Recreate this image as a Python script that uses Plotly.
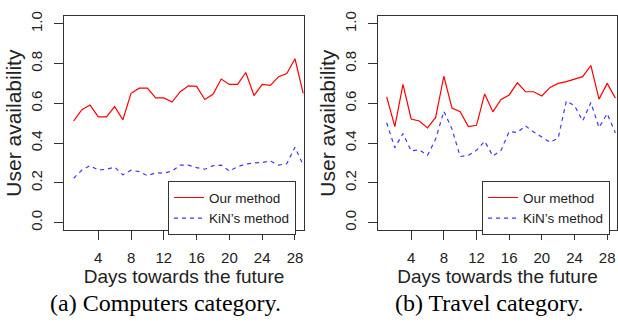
import plotly.graph_objects as go

# ---- data ----
days = list(range(1, 30))
computers_ours = [0.511, 0.568, 0.591, 0.532, 0.532, 0.583, 0.517, 0.650, 0.676, 0.676,
                  0.627, 0.627, 0.606, 0.658, 0.688, 0.685, 0.619, 0.645, 0.722, 0.695,
                  0.695, 0.755, 0.639, 0.695, 0.690, 0.734, 0.750, 0.824, 0.650]
computers_kin = [0.223, 0.264, 0.286, 0.264, 0.268, 0.279, 0.240, 0.263, 0.256, 0.236,
                 0.250, 0.248, 0.259, 0.289, 0.289, 0.276, 0.268, 0.286, 0.289, 0.259,
                 0.281, 0.294, 0.300, 0.302, 0.309, 0.289, 0.296, 0.379, 0.289]
travel_ours = [0.632, 0.483, 0.695, 0.521, 0.511, 0.476, 0.529, 0.736, 0.576, 0.558,
               0.483, 0.489, 0.647, 0.557, 0.619, 0.642, 0.703, 0.658, 0.658, 0.637,
               0.680, 0.700, 0.709, 0.722, 0.734, 0.790, 0.621, 0.700, 0.626]
travel_kin = [0.502, 0.376, 0.448, 0.360, 0.366, 0.338, 0.420, 0.560, 0.470, 0.332,
              0.338, 0.363, 0.409, 0.335, 0.363, 0.458, 0.453, 0.486, 0.456, 0.429,
              0.404, 0.425, 0.612, 0.588, 0.511, 0.604, 0.478, 0.548, 0.450]
x_ticks = [4, 8, 12, 16, 20, 24, 28]
y_ticks = [0.0, 0.2, 0.4, 0.6, 0.8, 1.0]
y_tick_labels = ["0.0", "0.2", "0.4", "0.6", "0.8", "1.0"]
series_names = ["Our method", "KiN\u2019s method"]
x_title = "Days towards the future"
y_title = "User availability"
captions = ["(a) Computers category.", "(b) Travel category."]

W, H = 618, 324
RED = "#ff0000"
BLUE = "#3a3aff"
AX = "#333333"
SANS = "Liberation Sans, Arial, sans-serif"
SERIF = "Liberation Serif, Times New Roman, serif"

fig = go.Figure()

panels = [
    dict(ours=computers_ours, kin=computers_kin, xa="x", ya="y", legend="legend"),
    dict(ours=travel_ours, kin=travel_kin, xa="x2", ya="y2", legend="legend2"),
]
for p in panels:
    fig.add_trace(go.Scatter(x=days, y=p["ours"], mode="lines", name=series_names[0],
                             line=dict(color=RED, width=1.2), xaxis=p["xa"], yaxis=p["ya"],
                             legend=p["legend"]))
    fig.add_trace(go.Scatter(x=days, y=p["kin"], mode="lines", name=series_names[1],
                             line=dict(color=BLUE, width=1.2, dash="4px,4px"),
                             xaxis=p["xa"], yaxis=p["ya"], legend=p["legend"]))

def px_x(a, b):
    return [a / W, b / W]

def px_y(top, bottom):
    return [(H - bottom) / H, (H - top) / H]

common_x = dict(tickvals=x_ticks, ticks="outside", ticklen=9, tickcolor=AX, tickwidth=1,
                showline=True, linecolor=AX, linewidth=1, mirror=True, showgrid=False,
                zeroline=False, tickfont=dict(family=SANS, size=15, color="#222"),
                ticklabelstandoff=5,
                title=dict(text=x_title, font=dict(family=SANS, size=19, color="#222"), standoff=0))
common_y = dict(tickvals=y_ticks, ticktext=y_tick_labels, ticks="outside", ticklen=9,
                tickcolor=AX, tickwidth=1, showline=True, linecolor=AX, linewidth=1,
                mirror=True, showgrid=False, zeroline=False, range=[-0.04, 1.04],
                tickangle=-90, tickfont=dict(family=SANS, size=15, color="#222"),
                ticklabelstandoff=6,
                title=dict(text=y_title, font=dict(family=SANS, size=21, color="#222"), standoff=0))

leg_common = dict(xanchor="left", yanchor="top", bordercolor=AX, borderwidth=1,
                  bgcolor="white", font=dict(family=SANS, size=13.5, color="#222"),
                  tracegroupgap=0)

fig.update_layout(
    width=W, height=H, margin=dict(l=0, r=0, t=0, b=0),
    paper_bgcolor="white", plot_bgcolor="white",
    xaxis=dict(common_x, domain=px_x(64, 304), range=[-0.18, 29.1], anchor="y"),
    yaxis=dict(common_y, domain=px_y(11, 229), anchor="x"),
    xaxis2=dict(common_x, domain=px_x(378, 617), range=[-0.06, 29.2], anchor="y2"),
    yaxis2=dict(common_y, domain=px_y(11, 229), anchor="x2"),
    legend=dict(leg_common, x=168 / W, y=(H - 179) / H),
    legend2=dict(leg_common, x=482 / W, y=(H - 179) / H),
    showlegend=True,
)

for cx, text in zip([165, 489], captions):
    fig.add_annotation(x=cx / W, y=(H - 303) / H, xref="paper", yref="paper",
                       text=text, showarrow=False, xanchor="center", yanchor="middle",
                       font=dict(family=SERIF, size=24, color="black"))

fig.write_html("out.html", config={"displayModeBar": False},
               post_script="document.body.style.margin='0';document.body.style.overflow='hidden';")
